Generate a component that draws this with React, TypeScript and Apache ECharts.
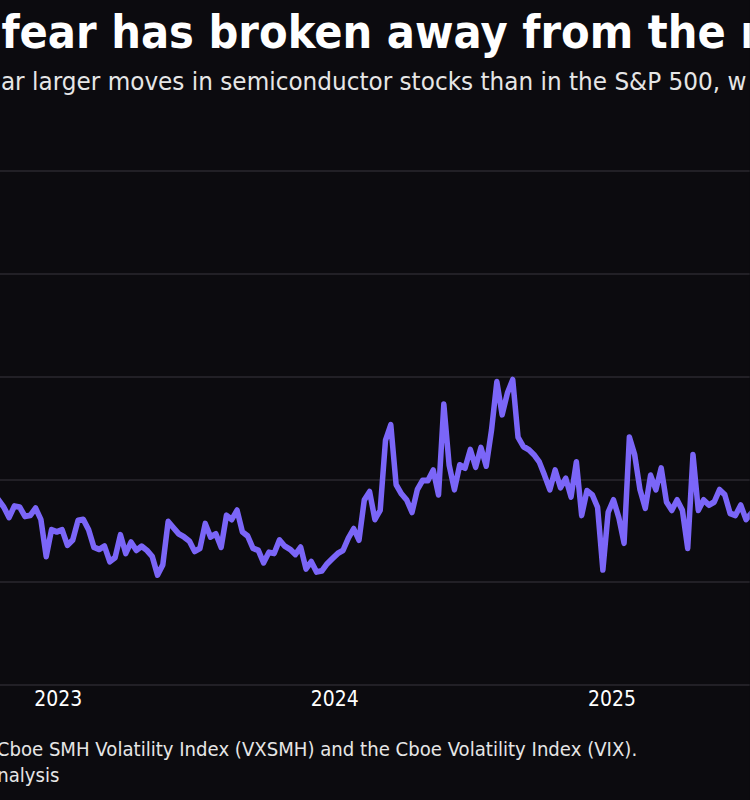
import React, { useEffect, useRef } from "react";
import * as echarts from "echarts";

// ---- texts (the reference is a crop of a wider chart) ----
const TITLE = "fear has broken away from the m";
const SUBTITLE = "ar larger moves in semiconductor stocks than in the S&P 500, w";
const FOOTNOTE_1 = "Cboe SMH Volatility Index (VXSMH) and the Cboe Volatility Index (VIX).";
const FOOTNOTE_2 = "nalysis";

// ---- axis ----
const YEAR_TICKS = ["2023-01-01", "2024-01-01", "2025-01-01"];
const X_MIN = "2022-10-16";
const X_MAX = "2025-07-02";
const Y_MIN = 1;
const Y_MAX = 6;
const Y_STEP = 1;

// ---- data: weekly VXSMH / VIX ratio, starting on START_DATE ----
const START_DATE = "2022-10-14";
const RATIO = [
  2.80, 2.73, 2.63, 2.74, 2.73, 2.64, 2.65, 2.72, 2.61, 2.25,
  2.51, 2.49, 2.51, 2.36, 2.41, 2.60, 2.61, 2.51, 2.34, 2.32,
  2.35, 2.20, 2.24, 2.46, 2.28, 2.39, 2.31, 2.35, 2.31, 2.25,
  2.07, 2.17, 2.59, 2.53, 2.47, 2.44, 2.40, 2.30, 2.33, 2.57,
  2.44, 2.47, 2.34, 2.65, 2.61, 2.70, 2.49, 2.45, 2.33, 2.31,
  2.19, 2.29, 2.28, 2.41, 2.35, 2.32, 2.27, 2.34, 2.13, 2.20,
  2.10, 2.11, 2.18, 2.23, 2.28, 2.31, 2.43, 2.52, 2.41, 2.80,
  2.88, 2.61, 2.70, 3.38, 3.53, 2.95, 2.86, 2.80, 2.68, 2.90,
  2.99, 2.99, 3.09, 2.85, 3.73, 3.14, 2.90, 3.14, 3.11, 3.29,
  3.12, 3.31, 3.13, 3.48, 3.95, 3.63, 3.84, 3.97, 3.41, 3.32,
  3.29, 3.24, 3.17, 3.04, 2.90, 3.09, 2.92, 3.01, 2.83, 3.17,
  2.65, 2.89, 2.85, 2.73, 2.12, 2.68, 2.80, 2.63, 2.38, 3.41,
  3.24, 2.90, 2.72, 3.04, 2.90, 3.11, 2.78, 2.70, 2.80, 2.70,
  2.33, 3.24, 2.70, 2.80, 2.75, 2.78, 2.90, 2.85, 2.67, 2.65,
  2.75, 2.61, 2.67,
];

const DAY = 86400000;
const utc = (s: string) => {
  const [y, m, d] = s.split("-").map(Number);
  return Date.UTC(y, m - 1, d);
};

// the reference picture is slightly compressed horizontally
const SX = 0.92;
const W = 750;
const H = 800;
const CW = W / SX;

const FONT = "'DejaVu Sans', Verdana, sans-serif";

export default function App() {
  const ref = useRef<HTMLDivElement>(null);

  useEffect(() => {
    document.body.style.margin = "0";
    document.body.style.background = "#0c0b0f";
    if (!ref.current) return;
    const chart = echarts.init(ref.current, undefined, { renderer: "svg" });
    const start = utc(START_DATE);
    const data = RATIO.map((v, i) => [start + i * 7 * DAY, v]);

    chart.setOption({
      animation: false,
      backgroundColor: "#0c0b0f",
      grid: { left: 0, right: 0, top: 171, bottom: 115, containLabel: false },
      xAxis: {
        type: "value",
        min: utc(X_MIN),
        max: utc(X_MAX),
        axisLine: { show: false },
        axisTick: { show: false },
        splitLine: { show: false },
        axisLabel: {
          customValues: YEAR_TICKS.map(utc),
          formatter: (v: number) => String(new Date(v).getUTCFullYear()),
          color: "#ffffff",
          fontSize: 20.5,
          fontFamily: FONT,
          margin: 4,
        },
      },
      yAxis: {
        type: "value",
        min: Y_MIN,
        max: Y_MAX,
        interval: Y_STEP,
        axisLine: { show: false },
        axisTick: { show: false },
        axisLabel: { show: false },
        splitLine: { lineStyle: { color: "#2a292f", width: 1.5 } },
      },
      series: [
        {
          type: "line",
          data,
          showSymbol: false,
          symbol: "none",
          lineStyle: { color: "#7b66f8", width: 6, join: "round", cap: "round" },
        },
      ],
      graphic: [
        {
          type: "text",
          x: 1.5,
          y: 32,
          style: {
            text: TITLE,
            fill: "#ffffff",
            fontSize: 45.4,
            fontWeight: "bold",
            fontFamily: FONT,
            verticalAlign: "middle",
          },
        },
        {
          type: "text",
          x: 1,
          y: 82,
          style: {
            text: SUBTITLE,
            fill: "#e6e6e6",
            fontSize: 25.2,
            fontFamily: FONT,
            verticalAlign: "middle",
          },
        },
        {
          type: "text",
          x: -3.5,
          y: 749,
          style: {
            text: FOOTNOTE_1,
            fill: "#e6e6e6",
            fontSize: 19.7,
            fontFamily: FONT,
            verticalAlign: "middle",
          },
        },
        {
          type: "text",
          x: -3,
          y: 775,
          style: {
            text: FOOTNOTE_2,
            fill: "#e6e6e6",
            fontSize: 19.7,
            fontFamily: FONT,
            verticalAlign: "middle",
          },
        },
      ],
    });
    return () => chart.dispose();
  }, []);

  return (
    <div style={{ width: W, height: H, overflow: "hidden", background: "#0c0b0f" }}>
      <div
        ref={ref}
        style={{
          width: CW,
          height: H,
          transform: `scaleX(${SX})`,
          transformOrigin: "0 0",
        }}
      />
    </div>
  );
}
